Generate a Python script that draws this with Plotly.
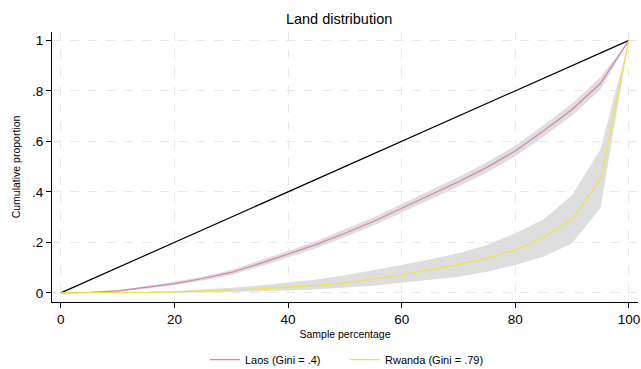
import plotly.graph_objects as go

pct = [0, 5, 10, 15, 20, 25, 30, 35, 40, 45, 50, 55, 60, 65, 70, 75, 80, 85, 90, 95, 100]

laos = [0, 0.002, 0.008, 0.021, 0.037, 0.057, 0.081, 0.116, 0.153, 0.192, 0.236,
        0.283, 0.335, 0.386, 0.440, 0.497, 0.562, 0.642, 0.726, 0.830, 1.0]
laos_lo = [0, 0.001, 0.005, 0.016, 0.030, 0.049, 0.071, 0.104, 0.140, 0.178, 0.221,
           0.267, 0.318, 0.368, 0.421, 0.477, 0.541, 0.619, 0.702, 0.805, 1.0]
laos_hi = [0, 0.003, 0.011, 0.026, 0.044, 0.065, 0.091, 0.128, 0.166, 0.206, 0.251,
           0.299, 0.352, 0.404, 0.459, 0.517, 0.583, 0.665, 0.750, 0.855, 1.0]

rwanda = [0, 0.0, 0.001, 0.002, 0.004, 0.007, 0.011, 0.016, 0.023, 0.030, 0.041,
          0.054, 0.071, 0.092, 0.113, 0.138, 0.170, 0.219, 0.291, 0.449, 1.0]
rwanda_lo = [0, 0.0, 0.0, 0.001, 0.001, 0.002, 0.004, 0.006, 0.010, 0.014, 0.020,
             0.028, 0.040, 0.052, 0.064, 0.084, 0.110, 0.144, 0.197, 0.336, 1.0]
rwanda_hi = [0, 0.001, 0.002, 0.004, 0.008, 0.013, 0.020, 0.029, 0.040, 0.053, 0.070,
             0.089, 0.110, 0.133, 0.157, 0.190, 0.236, 0.292, 0.387, 0.569, 1.0]

equality_x = [0, 100]
equality_y = [0, 1]

y_tickvals = [0, 0.2, 0.4, 0.6, 0.8, 1]
y_ticktext = ["0", ".2", ".4", ".6", ".8", "1"]
x_tickvals = [0, 20, 40, 60, 80, 100]

band_color = "rgb(222,222,222)"
laos_color = "#D582B4"
rwanda_color = "#F0E442"

fig = go.Figure()

for lo, hi in [(laos_lo, laos_hi), (rwanda_lo, rwanda_hi)]:
    fig.add_trace(go.Scatter(x=pct, y=lo, mode="lines", line=dict(width=0, color=band_color),
                             showlegend=False, hoverinfo="skip"))
    fig.add_trace(go.Scatter(x=pct, y=hi, mode="lines", line=dict(width=0, color=band_color),
                             fill="tonexty", fillcolor=band_color,
                             showlegend=False, hoverinfo="skip"))

fig.add_trace(go.Scatter(x=equality_x, y=equality_y, mode="lines",
                         line=dict(color="black", width=1.2), showlegend=False))
fig.add_trace(go.Scatter(x=pct, y=laos, mode="lines", name="Laos (Gini = .4)",
                         line=dict(color=laos_color, width=1.2)))
fig.add_trace(go.Scatter(x=pct, y=rwanda, mode="lines", name="Rwanda (Gini = .79)",
                         line=dict(color=rwanda_color, width=1.2)))

font_family = "Liberation Sans, Arial, sans-serif"

fig.update_layout(
    width=641, height=369,
    margin=dict(l=52, r=3, t=32, b=67, autoexpand=False),
    paper_bgcolor="white", plot_bgcolor="white",
    font=dict(family=font_family, color="black"),
    title=dict(text="Land distribution", x=0.529, xanchor="center", y=0.948, yanchor="middle",
               font=dict(size=14.5, color="black")),
    showlegend=True,
    legend=dict(orientation="h", x=0.5, xanchor="center", y=-0.16, yanchor="top",
                traceorder="normal", font=dict(size=11), itemwidth=30,
                entrywidth=95, entrywidthmode="pixels"),
)

grid_common = dict(showgrid=True, gridcolor="#e8e8e8", griddash="dash", gridwidth=1,
                   zeroline=False, showline=True, linecolor="black", linewidth=1.2,
                   ticks="outside", ticklen=5, tickcolor="black", tickwidth=1.2,
                   automargin=False,
                   tickfont=dict(size=13.5, color="black"))

fig.update_xaxes(range=[-1.55, 101.6], tickvals=x_tickvals,
                 title=dict(text="Sample percentage", font=dict(size=10.5), standoff=4),
                 **grid_common)
fig.update_yaxes(range=[-0.036, 1.033], tickvals=y_tickvals, ticktext=y_ticktext,
                 title=dict(text="Cumulative proportion", font=dict(size=10.5), standoff=9),
                 **grid_common)

fig.write_html("out.html", config={"displayModeBar": False},
               post_script="document.body.style.margin='0px';document.body.style.overflow='hidden';")
